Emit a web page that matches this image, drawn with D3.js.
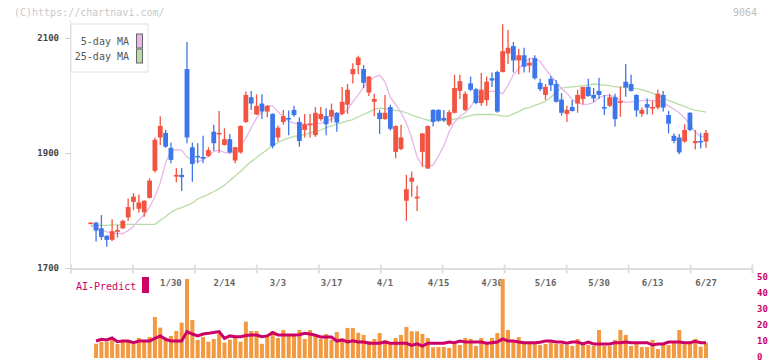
<!DOCTYPE html>
<html><head><meta charset="utf-8">
<script src="https://cdn.jsdelivr.net/npm/d3@7"></script>
<style>html,body{margin:0;padding:0;background:#fff;}svg{display:block;font-family:"DejaVu Sans Mono",monospace;}</style>
</head><body><svg id="c" width="772" height="361"></svg>
<script>
const dates = ["1/8","1/9","1/10","1/14","1/15","1/16","1/17","1/20","1/21","1/22","1/23","1/24","1/27","1/28","1/29","1/30","1/31",
"2/3","2/4","2/5","2/6","2/7","2/10","2/12","2/13","2/14","2/17","2/18","2/19","2/20","2/21","2/25","2/26","2/27","2/28",
"3/3","3/4","3/5","3/6","3/7","3/10","3/11","3/12","3/13","3/14","3/17","3/18","3/19","3/21","3/24","3/25","3/26","3/27","3/28","3/31",
"4/1","4/2","4/3","4/4","4/7","4/8","4/9","4/10","4/11","4/14","4/15","4/16","4/17","4/18","4/21","4/22","4/23","4/24","4/25","4/28","4/30",
"5/1","5/2","5/7","5/8","5/9","5/12","5/13","5/14","5/15","5/16","5/19","5/20","5/21","5/22","5/23","5/26","5/27","5/28","5/29","5/30",
"6/2","6/3","6/4","6/5","6/6","6/9","6/10","6/11","6/12","6/13","6/16","6/17","6/18","6/19","6/20","6/23","6/24","6/25","6/26","6/27"];
const open  = [1778,1779,1769,1756,1749,1763,1769,1788,1815,1803,1797,1822,1869,1927,1935,1909,1859,1862,2046,1910,1895,1893,1895,1937,1933,1914,1924,1887,1901,1954,1997,1967,1986,1972,1968,1927,1954,1961,1975,1954,1940,1949,1931,1959,1964,1963,1970,1968,1984,2037,2053,2046,2005,1989,1970,1959,1980,1902,1907,1817,1850,1821,1902,1873,1975,1975,1961,1949,1970,2008,1975,2021,2011,1987,1992,2030,2041,2041,2073,2086,2061,2070,2052,2065,2022,2001,2029,2020,1993,1968,1980,1986,1994,2015,2001,2008,1980,1982,1997,1989,2024,2020,2001,1968,1985,1978,1979,2001,1966,1930,1927,1920,1970,1917,1921,1920];
const high  = [1779,1780,1792,1757,1785,1775,1784,1821,1830,1828,1818,1856,1927,1964,1940,1918,1874,1874,2093,1918,1917,1930,1910,1949,1973,1943,1933,1911,1948,2007,2008,2002,2002,1983,1969,1948,1975,1974,1982,1962,1968,1968,1980,1980,1978,1986,1971,2015,2020,2056,2069,2053,2034,2003,1975,2001,1984,1948,1949,1862,1868,1843,1935,1948,1976,1976,1975,1975,2036,2036,2007,2033,2013,2039,2033,2040,2043,2124,2114,2093,2081,2083,2065,2070,2029,2020,2034,2027,2004,1982,1992,2010,2015,2029,2013,2031,2001,2003,2003,2015,2055,2036,2002,1979,1995,1991,2010,2008,1973,1934,1933,1950,1971,1940,1935,1940];
const low   = [1778,1746,1749,1737,1747,1753,1768,1782,1801,1796,1789,1821,1866,1914,1909,1882,1849,1834,1917,1850,1882,1882,1893,1904,1900,1913,1899,1882,1899,1952,1975,1966,1959,1962,1908,1920,1949,1931,1963,1911,1927,1927,1928,1956,1931,1953,1937,1966,1968,2021,2037,2013,1999,1964,1933,1958,1939,1891,1905,1782,1824,1799,1876,1872,1946,1954,1954,1946,1969,1994,1973,2008,1985,1982,1982,2015,1970,2040,2055,2040,2037,2040,2040,2028,2008,1992,2008,1988,1965,1954,1972,1970,1985,1998,1989,1994,1966,1980,1946,1963,1998,2007,1963,1963,1967,1967,1976,1972,1934,1917,1898,1918,1938,1906,1908,1909];
const close = [1779,1765,1754,1749,1764,1766,1782,1806,1824,1814,1817,1852,1923,1947,1911,1888,1862,1858,1927,1881,1894,1890,1905,1917,1935,1924,1901,1910,1947,2001,1986,1982,1972,1982,1912,1944,1964,1959,1966,1921,1950,1951,1970,1968,1950,1975,1953,1989,2010,2046,2066,2022,2033,1994,1959,1970,1942,1947,1927,1837,1857,1824,1934,1947,1954,1956,1957,1971,2013,2025,2003,2010,1987,2010,2024,2026,1972,2077,2083,2061,2070,2050,2057,2030,2011,2015,2018,1989,1970,1975,1973,2001,2015,1999,1995,2001,1979,1997,1959,1990,2014,2008,1974,1975,1979,1980,2003,1979,1951,1921,1901,1940,1940,1921,1919,1935];
const ma5   = [1773,1770,1766,1763,1761,1760,1760,1765,1772,1784,1792,1806,1824,1848,1883,1904,1906,1905,1893,1887,1885,1888,1895,1903,1905,1901,1900,1904,1912,1926,1944,1961,1973,1982,1982,1972,1962,1956,1952,1950,1950,1950,1951,1952,1955,1959,1963,1968,1975,1989,2001,2015,2024,2032,2035,2024,1997,1984,1970,1952,1926,1893,1878,1877,1879,1895,1912,1937,1954,1964,1970,1980,1995,2001,2006,2007,2008,2003,2018,2036,2047,2057,2064,2065,2059,2046,2034,2024,2012,2004,1993,1988,1984,1985,1988,1996,2000,2000,1998,1991,1988,1989,1990,1991,1992,1991,1990,1987,1982,1976,1970,1961,1949,1937,1928,1930];
const ma25  = [1774,1774,1774,1774,1775,1775,1775,1776,1776,1776,1776,1776,1776,1783,1789,1797,1802,1805,1809,1813,1820,1824,1828,1833,1838,1844,1852,1860,1868,1877,1885,1892,1899,1906,1913,1918,1923,1926,1929,1930,1932,1935,1937,1940,1944,1947,1950,1953,1956,1958,1963,1967,1971,1976,1978,1977,1976,1974,1973,1970,1966,1963,1960,1957,1957,1957,1957,1957,1959,1960,1963,1965,1967,1967,1967,1967,1966,1964,1964,1968,1972,1977,1979,1983,1986,1990,1997,2006,2013,2014,2015,2016,2017,2018,2020,2019,2018,2017,2015,2015,2014,2013,2012,2010,2007,2004,2000,1996,1991,1988,1984,1981,1977,1974,1973,1971];
const volume = [null,8.9,10.2,10.2,11.3,8.8,10.2,10.2,8.8,12.5,10.2,13.1,25.6,19,11.3,13.8,16.9,22.1,49.4,23.8,11.3,13.1,10.2,11.9,15.4,9.6,11.5,12.5,10.2,22.7,16.9,16.9,8.9,13.1,16.9,12.5,17.5,14.4,14.4,17.5,11.9,17.5,14.4,11.9,15,11.3,16.3,11.3,18.8,18.8,15.8,14.4,10.6,11.9,15.6,11.3,8.8,12.5,14.4,19.4,16.7,16.7,15,12.5,6.7,6.9,6.9,6.3,8.8,8.1,12.5,11.9,7.5,12.5,9.4,12.5,15.6,49.4,17.5,11.3,13.1,8.8,8.8,8.8,8.1,8.8,9.8,8.8,8.8,8.1,7.5,11.9,8.8,8.1,7.5,17.5,7.5,7.5,11.3,17.5,14.4,7.5,8.8,6.9,6.9,11.3,5.6,8.1,8.1,9.4,17.5,8.6,8.8,11.9,7.1,9.6];
const aiPredict = [null,10.6,11.7,11.3,12.5,10.2,10.6,10.6,9.6,10.6,10.6,10.6,12.3,13.8,11.7,10.6,10.6,10.6,16.5,15,13.8,15,15.4,16,16.5,12.3,13.8,13.3,13.3,14,14.4,14.4,13.3,13.8,15.8,14.4,14.4,14.4,14.4,14.6,15.4,15,14.2,13.1,13.1,13.1,10.6,11.3,10,10.8,10,10,9.2,9.2,9.2,10,9.2,9.2,9.2,9.2,7.9,8.8,7.5,9.2,9.2,9.2,9.2,10,9.6,10.6,10,10,10,10,9.2,9.6,10,11.9,10.6,10.6,10,9.6,9.6,9.6,9.8,10.6,10.6,10,10,9.2,10,10,8.8,10,8.8,8.8,8.8,8.8,9.6,9.6,10,9.6,9.6,9.6,9.6,8.1,8.8,8.8,10,10,10,9.6,9.6,10.4,9.6,9.6];
const dateLabels = ["1/30","2/14","3/3","3/17","4/1","4/15","4/30","5/16","5/30","6/13","6/27"];
const priceTicks = [1700,1900,2100];
const volumeTicks = [0,10,20,30,40,50];
const code = "9064";
const copyright = "(C)https://chartnavi.com/";
const legendItems = ["5-day MA","25-day MA"];
const aiLabel = "AI-Predict";

const RED="#f25441", BLUE="#3d76ea", PINK="#e8b6ea", GREEN="#b8dca6", AI="#cc0066", VOL="#f3993f";
const svg = d3.select("#c");
const n = dates.length;
const x = d3.scaleLinear().domain([0, n-1]).range([90.7, 706]);
const y = d3.scaleLinear().domain([1700, 2100]).range([268, 38]);
const yv = d3.scaleLinear().domain([0, 50]).range([358, 278]);
const gridX = d3.scaleLinear().domain([0, 11]).range([70.5, 752]);

// header
svg.append("text").attr("x",14).attr("y",15.5).attr("font-size",10).attr("fill","#c8c8c8").text(copyright);
svg.append("text").attr("x",757).attr("y",15.5).attr("text-anchor","end").attr("font-size",10).attr("fill","#bdbdbd").text(code);

// axes lines
svg.append("line").attr("x1",70.5).attr("x2",70.5).attr("y1",20).attr("y2",268).attr("stroke","#e3e3e3");
const xAx = svg.append("g").attr("transform","translate(0,268.5)")
  .call(d3.axisBottom(gridX).tickValues(d3.range(12)).tickFormat("").tickSizeInner(5).tickSizeOuter(0));
xAx.select(".domain").attr("stroke","#dedede").attr("stroke-width",2);
xAx.selectAll(".tick line").attr("stroke","#dedede").attr("stroke-width",2).attr("y1",-4).attr("y2",5);

const yAx = svg.append("g").attr("transform","translate(71,0)")
  .call(d3.axisLeft(y).tickValues(priceTicks).tickFormat(d3.format("d")).tickSize(6).tickPadding(6));
yAx.select(".domain").remove();
yAx.selectAll(".tick line").attr("stroke","#cfcfcf");
yAx.selectAll(".tick text").attr("font-family","DejaVu Sans Mono, monospace").attr("font-size",9).attr("font-weight","bold").attr("fill","#444");

// date labels
svg.append("g").selectAll("text").data(dateLabels).join("text")
  .attr("x", d => x(dates.indexOf(d))).attr("y", 285.5).attr("text-anchor","middle")
  .attr("font-size",9).attr("font-weight","bold").attr("fill","#666").text(d => d);

// MA lines
const line = (arr, sc) => d3.line().defined(d => d != null).x((d,i)=>x(i)).y(d=>sc(d))(arr);
svg.append("path").attr("d", line(ma25, y)).attr("fill","none").attr("stroke",GREEN).attr("stroke-width",1.3);
svg.append("path").attr("d", line(ma5, y)).attr("fill","none").attr("stroke",PINK).attr("stroke-width",1.3);

// candles
const cg = svg.append("g");
for (let i = 0; i < n; i++) {
  const up = close[i] >= open[i];
  const col = up ? RED : BLUE;
  cg.append("line").attr("x1",x(i)).attr("x2",x(i)).attr("y1",y(high[i])).attr("y2",y(low[i]))
    .attr("stroke",col).attr("stroke-width",1.3);
  const top = y(Math.max(open[i],close[i])), bot = y(Math.min(open[i],close[i]));
  cg.append("rect").attr("x",x(i)-2.4).attr("width",4.8).attr("y",top).attr("height",Math.max(1.6, bot-top)).attr("fill",col);
}

// legend
const lg = svg.append("g");
lg.append("rect").attr("x",71).attr("y",24).attr("width",77).attr("height",48).attr("fill","#fff").attr("stroke","#e2e2e2");
[[PINK,41],[GREEN,56]].forEach((c,k)=>{
  lg.append("text").attr("x",129).attr("y",c[1]+3.5).attr("text-anchor","end").attr("font-size",10).attr("fill","#555").text(legendItems[k]);
  lg.append("rect").attr("x",136.5).attr("y",c[1]-7).attr("width",6).attr("height",14).attr("fill",c[0]).attr("stroke","#666");
});

// volume bars
volume.forEach((v,i)=>{
  if (v == null) return;
  svg.append("rect").attr("x",x(i)-2).attr("width",4).attr("y",yv(v)).attr("height",yv(0)-yv(v)).attr("fill",VOL);
});
svg.append("path").attr("d", line(aiPredict, yv)).attr("fill","none").attr("stroke",AI).attr("stroke-width",3);

// right axis volume
const vAx = svg.append("g").attr("transform","translate(756,-1.5)")
  .call(d3.axisRight(yv).tickValues(volumeTicks).tickSize(0).tickPadding(1));
vAx.select(".domain").remove();
vAx.selectAll(".tick text").attr("font-family","DejaVu Sans Mono, monospace").attr("font-size",9).attr("font-weight","bold").attr("fill",AI);

// AI legend
svg.append("text").attr("x",76).attr("y",289.5).attr("font-size",10).attr("fill",AI).text(aiLabel);
svg.append("rect").attr("x",142).attr("y",277).attr("width",7).attr("height",16).attr("fill",AI);
</script></body></html>
